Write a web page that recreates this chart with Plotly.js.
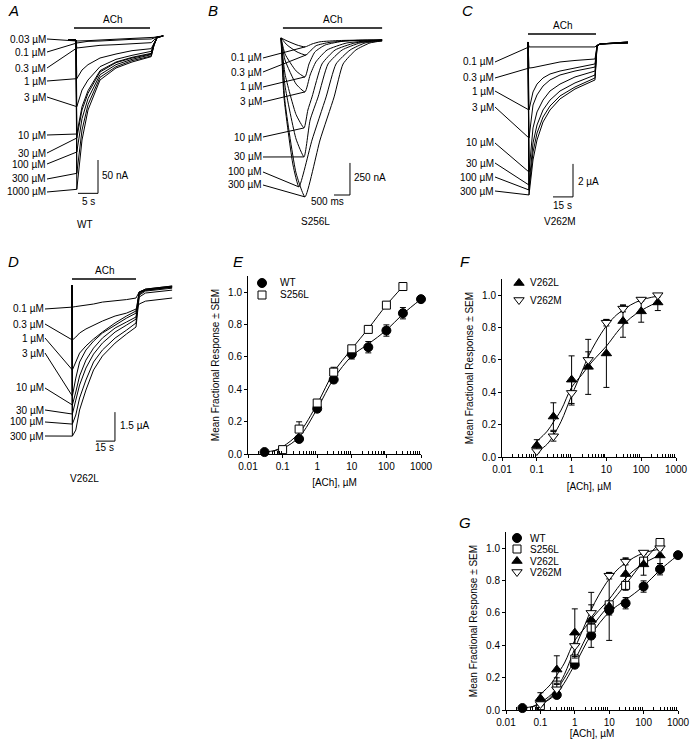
<!DOCTYPE html>
<html>
<head>
<meta charset="utf-8">
<script src="https://cdn.plot.ly/plotly-3.0.1.min.js"></script>
<style>
  html, body { margin: 0; padding: 0; background: #fff; }
  #plot { width: 690px; height: 746px; }
</style>
</head>
<body>
<div id="plot"></div>
<script>
const W = 690, H = 746;

// ---------- current traces ----------
// A: WT, time in s, current in nA
const aConc = ['0.03', '0.1', '0.3', '1', '3', '10', '30', '100', '300', '1000'];
const aTime = [-2, 0, 0.2, 1.5, 3, 6, 10, 14, 18.8, 19.5, 20.3, 21.8];
const aCurrent = [
  [0, 0, -1.5, -1.5, -1, 0, 1, 1.5, 3, 4, 5, 6],
  [0, 0, -4.5, -3, -2, -1.5, 0, 1, 1.5, 3, 4.5, 6],
  [0, 0, -12, -11, -10, -8, -7, -6, -4, 0, 4, 6],
  [0, 0, -58, -45, -37, -27, -21, -16, -13, -4, 4, 6],
  [0, 0, -100, -75, -60, -40, -29, -23, -17, -5, 4, 6],
  [0, 0, -141, -100, -76, -46, -33, -26, -20, -6, 4, 6],
  [0, 0, -147, -105, -80, -48, -34, -27, -21, -7, 4, 6],
  [0, 0, -168, -118, -88, -52, -37, -29, -22, -7, 4, 6],
  [0, 0, -200, -135, -97, -56, -40, -31, -24, -8, 4, 6],
  [0, 0, -224, -150, -105, -60, -42, -33, -25, -8, 4, 6]
];

// B: S256L, time in ms, current in nA
const bConc = ['0.1', '0.3', '1', '3', '10', '30', '100', '300'];
const bTime = [
  [0, 190, 500, 750, 970, 1220, 1840, 2470, 3160],
  [0, 190, 500, 780, 940, 1100, 1500, 2300, 3160],
  [0, 125, 470, 750, 875, 1060, 1380, 2000, 3160],
  [0, 125, 470, 750, 910, 1090, 1440, 2060, 3160],
  [0, 125, 470, 720, 840, 970, 1280, 1690, 2310, 3160],
  [0, 125, 470, 720, 910, 1160, 1470, 1910, 2470, 3160],
  [0, 95, 375, 560, 970, 1410, 1720, 2160, 2630, 3160],
  [0, 125, 470, 750, 1220, 1660, 1940, 2340, 2780, 3160]
];
const bCurrent = [
  [0, -23, -55, -70, -47, -30, -20, -17, -16],
  [0, -55, -109, -133, -95, -60, -35, -20, -16],
  [0, -125, -257, -304, -203, -109, -55, -23, -16],
  [0, -172, -359, -421, -289, -187, -94, -39, -16],
  [0, -281, -597, -702, -562, -460, -203, -94, -39, -16],
  [0, -374, -788, -928, -640, -460, -203, -94, -39, -16],
  [0, -468, -991, -1162, -796, -460, -203, -94, -39, -23],
  [0, -499, -1053, -1240, -796, -460, -203, -94, -39, -23]
];

// C: V262M, time in s, current in µA
const cConc = ['0.1', '0.3', '1', '3', '10', '30', '100', '300'];
const cTime = [-0.75, 0, 3, 6, 10.5, 15.75, 23.25, 34.5, 49.5, 51, 53.25, 74.25];
const cCurrent = [
  [0, -0.30, -0.30, -0.30, -0.30, -0.30, -0.30, -0.30, -0.30, -0.18, -0.12, -0.06],
  [0, -1.58, -1.55, -1.50, -1.42, -1.33, -1.21, -1.12, -1.03, -0.24, -0.12, -0.06],
  [0, -4.12, -3.03, -2.55, -2.18, -1.94, -1.76, -1.58, -1.33, -0.24, -0.12, -0.06],
  [0, -5.82, -3.82, -3.21, -2.67, -2.30, -2.00, -1.76, -1.52, -0.24, -0.12, -0.03],
  [0, -7.88, -5.21, -4.24, -3.52, -2.97, -2.55, -2.12, -1.76, -0.24, -0.12, -0.03],
  [0, -8.67, -6.12, -5.03, -4.12, -3.52, -2.97, -2.48, -2.00, -0.24, -0.12, 0],
  [0, -8.97, -6.67, -5.52, -4.55, -3.88, -3.27, -2.73, -2.18, -0.30, -0.12, 0],
  [0, -9.27, -7.15, -5.94, -4.85, -4.12, -3.45, -2.85, -2.30, -0.30, -0.12, 0]
];

// D: V262L, time in s, current in µA
const dConc = ['0.1', '0.3', '1', '3', '10', '30', '100', '300'];
const dTime = [0, 0.3, 3, 6, 11, 17, 24, 34, 43, 50.5, 53, 58, 79];
const dCurrent = [
  [0, -1.14, -1.11, -1.09, -1.03, -0.98, -0.88, -0.83, -0.75, -0.67, -0.36, -0.26, -0.10],
  [0, -2.84, -2.69, -2.48, -2.27, -2.07, -1.86, -1.60, -1.45, -1.24, -0.98, -0.83, -0.67],
  [0, -4.39, -3.98, -3.52, -3.15, -2.79, -2.43, -1.96, -1.60, -1.34, -0.36, -0.21, -0.05],
  [0, -5.74, -4.81, -3.98, -3.36, -2.90, -2.48, -2.07, -1.71, -1.45, -0.36, -0.21, -0.05],
  [0, -6.20, -5.53, -4.70, -3.88, -3.26, -2.74, -2.22, -1.91, -1.65, -0.41, -0.26, -0.10],
  [0, -6.67, -5.95, -5.17, -4.29, -3.57, -3.00, -2.43, -2.07, -1.76, -0.47, -0.26, -0.10],
  [0, -7.19, -6.72, -5.84, -4.91, -3.98, -3.36, -2.74, -2.33, -1.96, -0.52, -0.31, -0.16],
  [0, -7.81, -7.50, -6.46, -5.43, -4.39, -3.67, -3.00, -2.53, -2.17, -0.62, -0.41, -0.26]
];

// ---------- concentration-response ----------
const wtDose = [0.03, 0.3, 1, 3, 10, 30, 100, 300, 1000];
const wtResp = [0.012, 0.093, 0.28, 0.46, 0.617, 0.66, 0.763, 0.87, 0.957];
const wtSem = [0.005, 0.01, 0.02, 0.02, 0.03, 0.035, 0.035, 0.035, 0.01];
const wtFitDose = [0.03, 0.1, 0.3, 1, 3, 10, 30, 100, 300, 1000];
const wtFit = [0.012, 0.035, 0.105, 0.28, 0.465, 0.605, 0.68, 0.765, 0.865, 0.957];

const s256Dose = [0.1, 0.3, 1, 3, 10, 30, 100, 300];
const s256Resp = [0.027, 0.154, 0.315, 0.506, 0.65, 0.77, 0.92, 1.035];
const s256Sem = [0.01, 0.045, 0.02, 0.03, 0.02, 0.02, 0.02, 0.01];
const s256FitDose = [0.05, 0.1, 0.3, 1, 3, 10, 30, 100, 300];
const s256Fit = [0.015, 0.045, 0.13, 0.31, 0.505, 0.65, 0.775, 0.92, 1.035];

const v262Dose = [0.1, 0.3, 1, 3, 10, 30, 100, 300];
const v262lResp = [0.072, 0.25, 0.478, 0.557, 0.64, 0.84, 0.90, 0.955];
const v262lSem = [0.035, 0.085, 0.147, 0.17, 0.21, 0.1, 0.067, 0.05];
const v262mResp = [0.037, 0.128, 0.396, 0.60, 0.83, 0.917, 0.973, 1.0];
const v262mSem = [0.01, 0.03, 0.075, 0.05, 0.02, 0.02, 0.01, 0.01];
const v262FitDose = [0.1, 0.2, 0.3, 0.5, 1, 2, 3, 5, 10, 20, 30, 50, 100, 200, 300];
const v262lFit = [0.097, 0.16, 0.216, 0.29, 0.43, 0.51, 0.56, 0.615, 0.685, 0.77, 0.814, 0.86, 0.905, 0.94, 0.955];
const v262mFit = [0.03, 0.08, 0.134, 0.22, 0.38, 0.53, 0.62, 0.71, 0.81, 0.88, 0.907, 0.94, 0.97, 0.987, 0.994];

const doseTicks = [0.01, 0.1, 1, 10, 100, 1000];
const doseTickText = ['0.01', '0.1', '1', '10', '100', '1000'];

// ---------- layout helpers ----------
const FONT = 'Liberation Sans, Arial, Helvetica, sans-serif';
const data = [];
const layout = {
  width: W, height: H,
  margin: {l: 0, r: 0, t: 0, b: 0},
  paper_bgcolor: 'white', plot_bgcolor: 'rgba(0,0,0,0)',
  font: {family: FONT, size: 10, color: 'black'},
  showlegend: false,
  shapes: [], annotations: []
};

function domX(b) { return [b[0] / W, b[1] / W]; }
function domY(b) { return [1 - b[1] / H, 1 - b[0] / H]; }
function toPx(p, t) { return p.xb[0] + (t - p.xr[0]) / (p.xr[1] - p.xr[0]) * (p.xb[1] - p.xb[0]); }
function toPy(p, v) { return p.yb[0] + (p.yr[1] - v) / (p.yr[1] - p.yr[0]) * (p.yb[1] - p.yb[0]); }

function text(px, py, str, opts) {
  layout.annotations.push(Object.assign({
    xref: 'paper', yref: 'paper', x: px / W, y: 1 - py / H,
    text: str, showarrow: false, xanchor: 'center', yanchor: 'middle',
    font: {size: 10}
  }, opts || {}));
}
function line(s, x0, y0, x1, y1, w) {
  layout.shapes.push({type: 'line', xref: 'x' + s, yref: 'y' + s, x0: x0, y0: y0, x1: x1, y1: y1,
    line: {color: 'black', width: w || 1}});
}

// one panel of current recordings
function tracePanel(s, p, conc, times, currents, labelRight, labelY, bar, scale, smooth) {
  layout['xaxis' + s] = {domain: domX(p.xb), range: p.xr, visible: false, anchor: 'y' + s, fixedrange: true};
  layout['yaxis' + s] = {domain: domY(p.yb), range: p.yr, visible: false, anchor: 'x' + s, fixedrange: true};
  currents.forEach((cur, i) => {
    const t = Array.isArray(times[0]) ? times[i] : times;
    const ln = {color: 'black', width: 1};
    if (smooth) { ln.shape = 'spline'; ln.smoothing = smooth; }
    data.push({x: t, y: cur, xaxis: 'x' + s, yaxis: 'y' + s, type: 'scatter', mode: 'lines',
      line: ln, hoverinfo: 'skip'});
    // leader line from the label to the peak
    let k = 0;
    cur.forEach((v, j) => { if (v < cur[k]) k = j; });
    layout.annotations.push({
      xref: 'x' + s, yref: 'y' + s, x: t[k], y: cur[k],
      text: conc[i] + ' \u00b5M', showarrow: true, arrowhead: 0, arrowwidth: 1, arrowcolor: 'black',
      standoff: 0, startstandoff: 0,
      ax: labelRight - toPx(p, t[k]), ay: labelY[i] - toPy(p, cur[k]),
      xanchor: 'right', yanchor: 'middle', borderpad: 0, font: {size: 10}
    });
  });
  // ACh application bar
  line(s, bar[0], bar[2], bar[1], bar[2], 1.5);
  layout.annotations.push({xref: 'x' + s, yref: 'y' + s, x: (bar[0] + bar[1]) / 2, y: bar[2],
    text: 'ACh', showarrow: false, yanchor: 'bottom', yshift: 1, font: {size: 10}});
  // scale bar: [xEnd, xLen, yBottom, yLen]
  line(s, scale[0], scale[2], scale[0], scale[2] + scale[3], 1);
  line(s, scale[0] - scale[1], scale[2], scale[0], scale[2], 1);
}

const pA = {xb: [56, 166], xr: [-5, 22.5], yb: [20, 200], yr: [-240, 30]};
const pB = {xb: [270, 395], xr: [-344, 3563], yb: [20, 205], yr: [-1303, 140]};
const pC = {xb: [520, 635], xr: [-6.75, 79.5], yb: [25, 205], yr: [-9.88, 1.03]};
const pD = {xb: [55, 180], xr: [-13.4, 85.2], yb: [270, 450], yr: [-8.53, 0.78]};

tracePanel('', pA, aConc, aTime, aCurrent, 47, [39, 52, 68, 81, 97, 135, 153, 164, 179, 192],
  [-0.5, 18.5, 18], [5.5, 5, -230, 50]);
tracePanel('2', pB, bConc, bTime, bCurrent, 263, [58, 72, 87, 102, 137, 157, 172, 185],
  [60, 3160, 78], [2156, 500, -1225, 250], 0.5);
tracePanel('3', pC, cConc, cTime, cCurrent, 495, [62, 78, 91, 107, 143, 163, 177, 191],
  [-0.75, 50.25, 0.48], [33, 15, -9.39, 2]);
tracePanel('4', pD, dConc, dTime, dCurrent, 45, [309, 324, 338, 353, 388, 410, 422, 436],
  [0, 50.5, 0.31], [33.9, 15, -8.07, 1.5]);

// scale bar labels and construct names
text(100, 176, '50 nA', {xanchor: 'left'});
text(88, 201, '5 s');
text(85, 225, 'WT');
text(352, 178, '250 nA', {xanchor: 'left'});
text(327, 202, '500 ms');
text(315, 222, 'S256L');
text(576, 182, '2 \u00b5A', {xanchor: 'left'});
text(562, 205, '15 s');
text(560, 222, 'V262M');
text(118, 425, '1.5 \u00b5A', {xanchor: 'left'});
text(104, 448, '15 s');
text(84, 478, 'V262L');

// ---------- concentration-response panels ----------
const minorVals = [];
[0.01, 0.1, 1, 10, 100].forEach(d => { for (let m = 2; m <= 9; m++) minorVals.push(d * m); });

// overlay axis in page pixels, used only for the legend keys
layout.xaxis8 = {domain: [0, 1], range: [0, W], visible: false, anchor: 'y8', fixedrange: true};
layout.yaxis8 = {domain: [0, 1], range: [H, 0], visible: false, anchor: 'x8', fixedrange: true};

function markerOf(d) {
  return {symbol: d.symbol, size: d.size, color: d.fill, line: {color: 'black', width: 1}};
}

function dosePanel(s, p, sets, legend, titleStandoff) {
  layout['xaxis' + s] = {
    domain: domX(p.xb), anchor: 'y' + s, type: 'log', range: [-2, 3], fixedrange: true,
    tickmode: 'array', tickvals: doseTicks, ticktext: doseTickText,
    ticks: 'outside', ticklen: 3, tickwidth: 1, tickcolor: 'black',
    minor: {tickmode: 'array', tickvals: minorVals, ticks: 'inside', ticklen: 3, tickwidth: 1, tickcolor: 'black'},
    showline: true, linecolor: 'black', linewidth: 1, showgrid: false, zeroline: false,
    tickfont: {size: 10}, title: {text: '[ACh], \u00b5M', font: {size: 10}, standoff: titleStandoff}
  };
  layout['yaxis' + s] = {
    domain: domY(p.yb), anchor: 'x' + s, range: [0, 1.1], fixedrange: true,
    tickmode: 'array', tickvals: [0, 0.2, 0.4, 0.6, 0.8, 1.0], tickformat: '.1f',
    ticks: 'outside', ticklen: 3, tickwidth: 1, tickcolor: 'black',
    showline: true, linecolor: 'black', linewidth: 1, showgrid: false, zeroline: false,
    tickfont: {size: 10}, title: {text: 'Mean Fractional Response \u00b1 SEM', font: {size: 10}, standoff: 6}
  };
  sets.forEach(d => {
    data.push({x: d.fitDose, y: d.fit, xaxis: 'x' + s, yaxis: 'y' + s, type: 'scatter', mode: 'lines',
      line: {color: 'black', width: 1, shape: 'spline', smoothing: 1}, hoverinfo: 'skip'});
  });
  sets.forEach(d => {
    data.push({x: d.dose, y: d.resp, name: d.name, xaxis: 'x' + s, yaxis: 'y' + s, type: 'scatter',
      mode: 'markers', cliponaxis: false,
      error_y: {type: 'data', array: d.sem, visible: true, color: 'black', thickness: 1, width: 3},
      marker: markerOf(d)});
  });
  // legend: key at (mx, rows[i]), label starting at tx
  sets.forEach((d, i) => {
    data.push({x: [legend.mx], y: [legend.rows[i]], xaxis: 'x8', yaxis: 'y8', type: 'scatter',
      mode: 'markers', cliponaxis: false, marker: markerOf(d), hoverinfo: 'skip'});
    text(legend.tx, legend.rows[i], d.name, {xanchor: 'left'});
  });
}

const setWT = {name: 'WT', dose: wtDose, resp: wtResp, sem: wtSem, fitDose: wtFitDose, fit: wtFit,
  symbol: 'circle', size: 9, fill: 'black'};
const setS256L = {name: 'S256L', dose: s256Dose, resp: s256Resp, sem: s256Sem, fitDose: s256FitDose, fit: s256Fit,
  symbol: 'square', size: 8, fill: 'white'};
const setV262L = {name: 'V262L', dose: v262Dose, resp: v262lResp, sem: v262lSem, fitDose: v262FitDose, fit: v262lFit,
  symbol: 'triangle-up', size: 9, fill: 'black'};
const setV262M = {name: 'V262M', dose: v262Dose, resp: v262mResp, sem: v262mSem, fitDose: v262FitDose, fit: v262mFit,
  symbol: 'triangle-down', size: 9, fill: 'white'};

const pE = {xb: [248, 421], yb: [276, 454]};
const pF = {xb: [502, 676], yb: [279, 457]};
const pG = {xb: [506, 678], yb: [532, 710]};
dosePanel('5', pE, [setWT, setS256L], {mx: 262, tx: 278, rows: [283, 295]}, 7);
dosePanel('6', pF, [setV262L, setV262M], {mx: 519, tx: 528, rows: [283, 300]}, 8);
dosePanel('7', pG, [setWT, setS256L, setV262L, setV262M], {mx: 517, tx: 528, rows: [538, 549, 561, 572]}, 0);

// panel letters
[['A', 13, 10], ['B', 213, 10], ['C', 467, 10], ['D', 13, 261], ['E', 238, 261], ['F', 465, 261], ['G', 465, 522]]
  .forEach(l => text(l[1], l[2], '<i>' + l[0] + '</i>', {font: {size: 15}}));

Plotly.newPlot('plot', data, layout, {staticPlot: true, displayModeBar: false});
</script>
</body>
</html>
